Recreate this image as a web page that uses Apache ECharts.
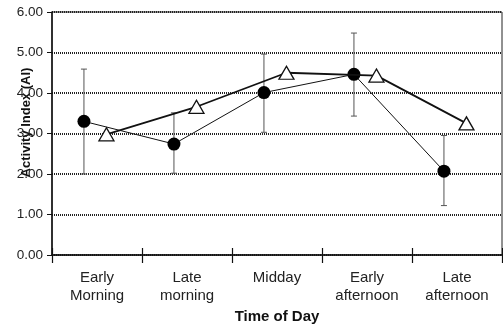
<!DOCTYPE html>
<html><head><meta charset="utf-8">
<script src="https://cdn.jsdelivr.net/npm/echarts@6/dist/echarts.min.js"></script>
<style>html,body{margin:0;padding:0;background:#fff}#c{width:503px;height:324px}</style>
</head><body><div id="c"></div>
<script>
const categories = ['Early\nMorning', 'Late\nmorning', 'Midday', 'Early\nafternoon', 'Late\nafternoon'];
const yTicks = [0, 1, 2, 3, 4, 5, 6];
const circleValues = [3.30, 2.74, 4.01, 4.46, 2.07];
const circleLow = [2.00, 2.02, 3.03, 3.43, 1.22];
const circleHigh = [4.59, 3.51, 4.96, 5.48, 2.95];
const triangleValues = [2.98, 3.66, 4.50, 4.43, 3.25];

const circleOffset = -0.145, triangleOffset = 0.105;
const xs = (off) => categories.map((c, i) => i + 0.5 + off);
const circleData = circleValues.map((v, i) => [xs(circleOffset)[i], v]);
const triData = triangleValues.map((v, i) => [xs(triangleOffset)[i], v]);
const errData = circleValues.map((v, i) => [xs(circleOffset)[i], circleLow[i], circleHigh[i]]);

const font = '"Liberation Sans", Arial, sans-serif';
const chart = echarts.init(document.getElementById('c'), null, {renderer: 'canvas'});
chart.setOption({
  animation: false,
  backgroundColor: '#fff',
  grid: {left: 52, right: 1, top: 12, bottom: 69, show: true, borderColor: '#222', borderWidth: 1,
         backgroundColor: 'transparent', containLabel: false, outerBoundsMode: 'none'},
  xAxis: [
    {type: 'category', data: categories, boundaryGap: true, position: 'bottom',
     axisLine: {lineStyle: {color: '#111', width: 1.5}},
     axisTick: {show: true, length: 8, inside: false, lineStyle: {color: '#111', width: 1.2}},
     axisLabel: {color: '#222', fontFamily: font, fontSize: 15, lineHeight: 18, margin: 14},
     name: 'Time of Day', nameLocation: 'middle', nameGap: 54, nameMoveOverlap: false,
     nameTextStyle: {fontFamily: font, fontSize: 15, fontWeight: 'bold', color: '#111'}},
    {type: 'value', min: 0, max: 5, interval: 1, position: 'bottom',
     axisLine: {show: false}, axisLabel: {show: false}, splitLine: {show: false},
     axisTick: {show: true, inside: true, length: 7, lineStyle: {color: '#111', width: 1.2}}}
  ],
  yAxis: {type: 'value', min: yTicks[0], max: yTicks[yTicks.length - 1], interval: 1,
    axisLine: {show: true, lineStyle: {color: '#111', width: 1.5}},
    axisTick: {show: true, length: 5, lineStyle: {color: '#111'}},
    axisLabel: {color: '#222', fontFamily: font, fontSize: 13.5, margin: 9, formatter: v => v.toFixed(2)},
    splitLine: {show: true, lineStyle: {color: '#222', width: 2, type: [1, 1]}},
    name: 'Activity Index (AI)', nameLocation: 'middle', nameGap: 19, nameMoveOverlap: false,
    nameTextStyle: {fontFamily: font, fontSize: 13, fontWeight: 'bold', color: '#111', padding: [0, 0, 0, 22]}},
  series: [
    {type: 'custom', xAxisIndex: 1, data: errData, z: 1,
     renderItem: (params, api) => {
       const x = api.value(0);
       const lo = api.coord([x, api.value(1)]);
       const hi = api.coord([x, api.value(2)]);
       const w = 3;
       const st = {stroke: '#555', lineWidth: 1};
       return {type: 'group', children: [
         {type: 'line', shape: {x1: lo[0], y1: lo[1], x2: hi[0], y2: hi[1]}, style: st},
         {type: 'line', shape: {x1: lo[0] - w, y1: lo[1], x2: lo[0] + w, y2: lo[1]}, style: st},
         {type: 'line', shape: {x1: hi[0] - w, y1: hi[1], x2: hi[0] + w, y2: hi[1]}, style: st}
       ]};
     }},
    {type: 'line', xAxisIndex: 1, data: circleData, z: 3, symbol: 'circle', symbolSize: 13,
     lineStyle: {color: '#111', width: 1}, itemStyle: {color: '#000', borderColor: '#000', borderWidth: 0}},
    {type: 'line', xAxisIndex: 1, data: triData, z: 4, symbol: 'triangle', symbolSize: [15, 13],
     lineStyle: {color: '#111', width: 1.8}, itemStyle: {color: '#fff', borderColor: '#111', borderWidth: 1.3}}
  ]
});
</script></body></html>
